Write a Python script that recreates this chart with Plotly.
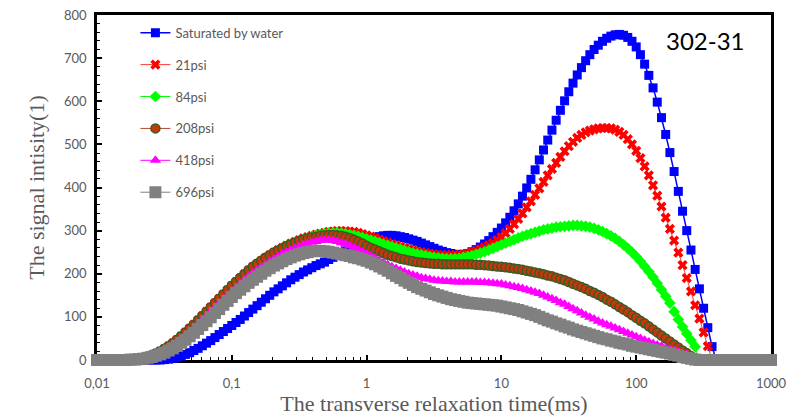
import numpy as np
import plotly.graph_objects as go

# T2 grid (ms), 32 points per decade from 0.01 to 1000
t2_ms = np.logspace(-2, 3, 161)

saturated = [0,0,0,0,0,0,0,0,0,0,0,0,0,0,0,0,
    1,2,4,6,9,13,17,22,27,33,
    39,45,52,59,66,73,80,87,94,102,
    110,118,126,134,142,150,158,165,172,179,
    186,192,198,204,209,214,219,223,227,233,
    238,243,248,253,258,263,268,273,277,281,
    284,286,288,289,289,288,286,284,281,278,
    275,271,267,263,259,255,252,249,247,245,
    244,245,247,251,256,262,269,277,286,296,
    306,318,331,346,362,380,399,419,441,464,
    487,510,533,556,579,601,622,642,661,678,
    694,708,720,730,739,746,751,754,755,753,
    748,739,726,708,686,660,631,598,562,523,
    481,437,391,345,300,255,210,165,120,75,
    31,
    0,0,0,0,0,0,0,0,0,0,0,0,0,0]

psi21 = [0,0,0,0,0,0,0,0,
    1,2,3,5,8,11,15,20,26,32,
    39,47,55,64,73,82,92,102,112,122,
    132,142,152,162,172,181,190,199,208,216,
    223,230,237,243,249,255,260,265,270,274,
    278,282,285,288,291,293,295,297,298,299,
    299,299,298,297,295,292,289,286,283,279,
    276,272,269,266,263,260,257,254,252,250,
    248,247,245,244,243,243,243,243,244,245,
    247,250,253,257,261,266,271,278,285,294,
    304,315,327,340,354,368,383,398,413,428,
    443,457,471,484,496,506,515,522,528,532,
    535,537,538,538,537,534,529,522,512,500,
    485,468,449,428,405,381,356,330,304,277,
    249,220,190,159,127,96,64,32,
    0,0,0,0,0,0,0,0,0,0,0,0,0,0,0]

psi84 = [0,0,0,0,0,0,0,0,
    1,2,3,5,8,11,15,20,26,32,
    39,47,55,64,73,82,92,102,112,122,
    132,142,152,162,172,181,190,199,208,216,
    223,230,237,243,249,254,259,264,268,272,
    276,280,283,286,289,291,293,294,295,295,
    294,293,291,289,287,284,281,278,275,272,
    269,266,263,260,257,254,251,248,246,244,
    242,240,238,237,236,235,235,235,236,238,
    240,242,245,248,251,255,259,263,267,271,
    275,279,283,287,290,293,296,299,302,304,
    306,308,309,310,311,312,312,311,310,308,
    305,302,298,293,288,282,275,267,259,250,
    240,229,217,205,192,178,163,148,132,112,
    94,77,61,46,31,
    0,0,0,0,0,0,0,0,0,0,0,0,0,0,0,0,0,0]

psi208 = [0,0,0,0,0,0,0,0,
    1,2,3,5,8,11,15,20,26,32,
    39,47,55,64,73,82,92,102,112,122,
    132,142,152,162,172,181,190,199,208,216,
    223,230,237,243,249,254,259,264,268,272,
    276,279,282,284,286,288,289,290,290,289,
    288,286,283,279,275,270,265,260,256,252,
    248,244,241,238,235,233,231,229,227,226,
    225,224,223,223,222,222,222,222,222,222,
    222,222,221,221,220,219,218,217,216,215,
    214,212,211,209,207,205,203,201,199,196,
    194,191,188,185,181,177,173,169,165,160,
    156,151,146,140,135,129,123,117,111,104,
    98,91,85,78,71,64,57,50,43,36,
    29,22,16,9,
    0,0,0,0,0,0,0,0,0,0,0,0,0,0,0,0,0,0,0]

psi418 = [0,0,0,0,0,0,0,0,
    1,2,3,4,7,10,14,18,23,29,
    35,42,50,58,66,75,84,93,102,112,
    121,131,140,150,159,168,177,185,193,201,
    208,215,222,228,234,240,245,250,255,259,
    263,267,270,273,275,277,278,278,277,275,
    272,269,265,261,256,251,246,241,236,231,
    226,221,216,212,208,204,200,197,194,191,
    189,187,185,184,183,182,182,181,181,181,
    181,181,181,180,180,179,178,177,176,174,
    172,170,168,166,163,160,157,154,150,146,
    142,138,133,129,124,119,114,109,104,99,
    95,90,86,82,78,74,70,66,62,58,
    54,50,46,42,38,35,32,28,25,22,
    19,15,12,
    0,0,0,0,0,0,0,0,0,0,0,0,0,0,0,0,0,0,0,0]

psi696 = [0,0,0,0,0,0,0,0,
    1,1,2,3,5,7,10,13,17,22,
    27,33,40,47,55,63,72,81,90,99,
    109,118,128,137,146,155,163,171,179,186,
    193,200,207,213,219,224,229,234,238,242,
    245,248,250,252,253,253,252,251,249,247,
    245,243,241,238,236,233,230,226,222,217,
    212,207,201,195,190,184,179,174,169,165,
    161,157,153,150,147,144,141,139,137,135,
    133,132,131,130,129,128,127,126,124,122,
    120,118,116,113,110,107,104,100,96,92,
    89,85,82,78,75,71,68,65,62,59,
    56,53,50,48,45,43,40,38,36,33,
    31,29,27,25,23,21,19,17,15,12,
    10,7,5,3,1,
    0,0,0,0,0,0,0,0,0,0,0,0,0,0,0,0,0,0]

series_names = ["Saturated by water", "21psi", "84psi", "208psi", "418psi", "696psi"]
series_values = [saturated, psi21, psi84, psi208, psi418, psi696]
for v in series_values:
    assert len(v) == len(t2_ms), len(v)

x_tick_vals = [0.01, 0.1, 1, 10, 100, 1000]
x_tick_text = ["0,01", "0,1", "1", "10", "100", "1000"]
x_minor_vals = [k * 10.0 ** e for e in range(-2, 3) for k in range(2, 10)]

styles = [
    dict(marker=dict(symbol="square", size=9, color="#0000ff", line=dict(width=0)),
         line=dict(color="#0000ff", width=1.5)),
    dict(marker=dict(symbol="x", size=9, color="#ff0000", line=dict(width=0)),
         line=dict(color="#ff3b3b", width=1)),
    dict(marker=dict(symbol="diamond", size=9, color="#00ff00", line=dict(width=0)),
         line=dict(color="#00ff00", width=1)),
    dict(marker=dict(symbol="circle", size=9, color="#c4390c", line=dict(color="#3a5a24", width=1.5)),
         line=dict(color="#b8432b", width=1)),
    dict(marker=dict(symbol="triangle-up", size=10, color="#ff00ff", line=dict(width=0)),
         line=dict(color="#ff00ff", width=1)),
    dict(marker=dict(symbol="square", size=12, color="#808080", line=dict(width=0)),
         line=dict(color="#808080", width=1)),
]

fig = go.Figure()
for i, (name, vals, st) in enumerate(zip(series_names, series_values, styles)):
    fig.add_trace(go.Scatter(
        x=t2_ms, y=vals, name=name, mode="lines+markers",
        marker=st["marker"], line=st["line"], cliponaxis=False,
        legendgroup=f"g{i}",
    ))

tick_font = dict(family="Lato, Carlito, sans-serif", size=13, color="#595959")
title_font = dict(family="Liberation Serif, Times New Roman, serif", size=22, color="#595959")

fig.update_layout(
    width=790, height=420,
    margin=dict(l=97, r=19, t=15, b=60),
    paper_bgcolor="white", plot_bgcolor="white",
    showlegend=True,
    legend=dict(x=0.057, y=0.992, xanchor="left", yanchor="top",
                font=dict(family="Lato, Carlito, sans-serif", size=13, color="#595959"),
                bgcolor="rgba(0,0,0,0)", tracegroupgap=12),
    annotations=[dict(text="302-31", x=0.903, y=0.925, xref="paper", yref="paper",
                      xanchor="center", yanchor="middle",
                      showarrow=False, font=dict(family="Lato, sans-serif", size=24, color="black"))],
)
fig.update_xaxes(
    type="log", range=[-2, 3], automargin=False,
    tickvals=x_tick_vals, ticktext=x_tick_text,
    ticks="inside", ticklen=5, tickwidth=1.5, tickcolor="black",
    minor=dict(tickvals=x_minor_vals, ticks="inside", ticklen=3, tickwidth=1, tickcolor="black"),
    showline=True, linewidth=2.5, linecolor="black", mirror=True,
    showgrid=False, zeroline=False, layer="below traces",
    tickfont=tick_font, ticklabelstandoff=10,
    title=dict(text="The transverse relaxation time(ms)", font=title_font, standoff=4),
)
fig.update_yaxes(
    range=[0, 800], dtick=100, automargin=False,
    ticks="inside", ticklen=5, tickwidth=1.5, tickcolor="black",
    minor=dict(dtick=20, ticks="inside", ticklen=3, tickwidth=1, tickcolor="black"),
    showline=True, linewidth=2.5, linecolor="black", mirror=True,
    showgrid=False, zeroline=False, layer="below traces",
    tickfont=tick_font, ticklabelstandoff=5,
    title=dict(text="The signal intisity(1)", font=title_font, standoff=14),
)

fig.write_html("out.html")
